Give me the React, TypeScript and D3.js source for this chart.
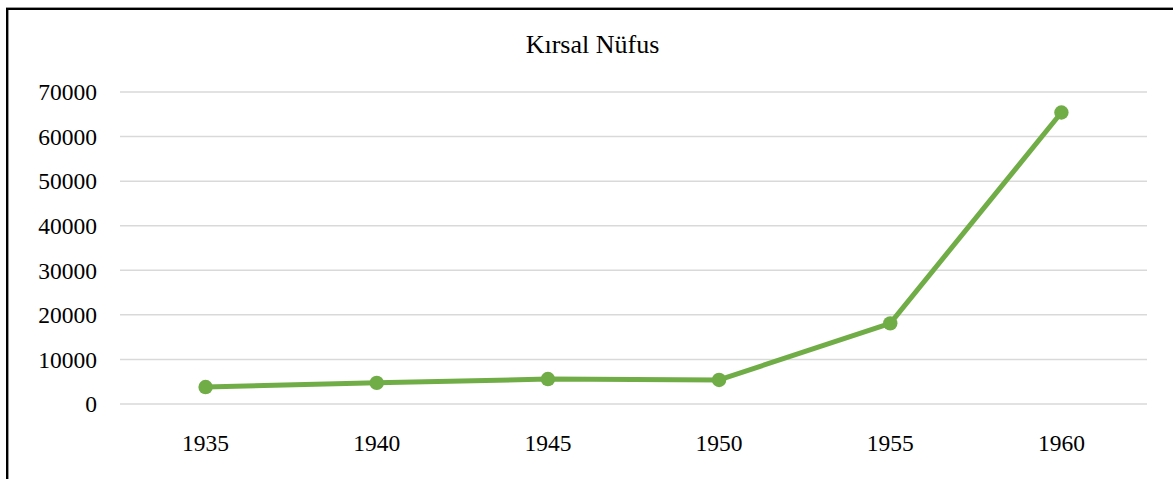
import React from "react";
import * as d3 from "d3";

const years = ["1935", "1940", "1945", "1950", "1955", "1960"];
const values = [3800, 4750, 5600, 5400, 18100, 65400];
const yTicks = [0, 10000, 20000, 30000, 40000, 50000, 60000, 70000];
const title = "Kırsal Nüfus";

export default function App() {
  const W = 1173, H = 479;
  const left = 120, right = 1147, top = 92, bottom = 404;
  const x = d3.scalePoint<string>().domain(years).range([left, right]).padding(0.5);
  const y = d3.scaleLinear().domain([0, 70000]).range([bottom, top]);
  const line = d3.line<number>().x((_, i) => x(years[i])!).y((d) => y(d));
  const font = "'Liberation Serif', 'Times New Roman', serif";
  return (
    <svg width={W} height={H} style={{ display: "block", position: "absolute", left: 0, top: 0 }}>
      <rect x={0} y={0} width={W} height={H} fill="#fff" />
      <rect x={7.2} y={8.8} width={W + 20} height={H + 20} fill="none" stroke="#000" strokeWidth={2.4} />
      <text x={592.5} y={53} textAnchor="middle" fontFamily={font} fontSize={26} fill="#000">{title}</text>
      {yTicks.map((t) => (
        <g key={t}>
          <line x1={left} x2={right} y1={y(t)} y2={y(t)} stroke="#d9d9d9" strokeWidth={1.5} />
          <text x={97} y={y(t)} dy="0.35em" textAnchor="end" fontFamily={font} fontSize={23.5} fill="#000">{t}</text>
        </g>
      ))}
      {years.map((yr) => (
        <text key={yr} x={x(yr)} y={451} textAnchor="middle" fontFamily={font} fontSize={23.5} fill="#000">{yr}</text>
      ))}
      <path d={line(values)!} fill="none" stroke="#70ad47" strokeWidth={5} strokeLinejoin="round" strokeLinecap="round" />
      {values.map((v, i) => (
        <circle key={i} cx={x(years[i])} cy={y(v)} r={7.2} fill="#70ad47" />
      ))}
    </svg>
  );
}
